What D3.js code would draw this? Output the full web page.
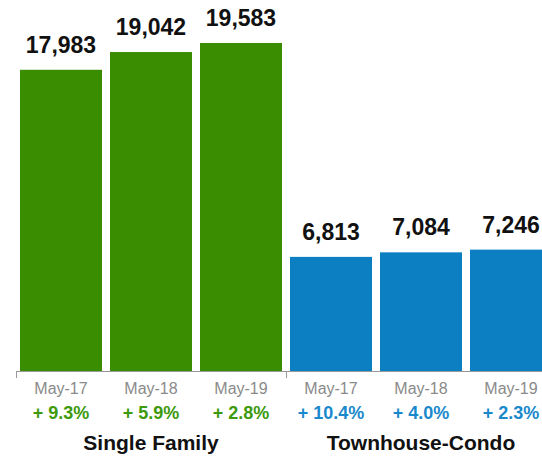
<!DOCTYPE html>
<html lang="en">
  <head>
    <meta charset="utf-8">
    <title>Inventory by type</title>
    <script type="text/javascript" src="https://cdn.jsdelivr.net/npm/d3@7/dist/d3.min.js"></script>
    <style>
      body { margin: 0; background: #fff; }
      svg text { font-family: "Liberation Sans", Arial, sans-serif; }
    </style>
  </head>
  <body>
    <script type="text/javascript">

      var w = 542;
      var h = 459;

      var groups = ["Single Family", "Townhouse-Condo"];
      var months = ["May-17", "May-18", "May-19"];
      var singleFamily = [17983, 19042, 19583];
      var townhouseCondo = [6813, 7084, 7246];
      var singleFamilyChange = ["+ 9.3%", "+ 5.9%", "+ 2.8%"];
      var townhouseCondoChange = ["+ 10.4%", "+ 4.0%", "+ 2.3%"];
      var colors = ["#3a8c00", "#0b7fc1"];
      var textColors = ["#3d9a0c", "#1a89cc"];

      var values = [singleFamily, townhouseCondo];
      var changes = [singleFamilyChange, townhouseCondoChange];

      var baseY = 371;

      var mySvg = d3.select("body")
                    .append("svg")
                    .attr("width", w)
                    .attr("height", h);

      var x0 = d3.scaleBand()
                 .domain(groups)
                 .range([16, 556]);

      var x1 = d3.scaleBand()
                 .domain(months)
                 .range([0, x0.bandwidth()])
                 .paddingInner(8 / 90)
                 .paddingOuter(4 / 90);

      var yScale = d3.scaleLinear()
                     .domain([0, 20000])
                     .range([baseY, 36]);

      var fmt = d3.format(",");

      groups.forEach(function(g, gi) {
        var gx = x0(g);
        var rows = months.map(function(m, i) {
          return { month: m, value: values[gi][i], change: changes[gi][i] };
        });
        var grp = mySvg.append("g").attr("transform", "translate(" + gx + ",0)");

        grp.selectAll("rect")
           .data(rows)
           .enter()
           .append("rect")
           .attr("x", function(d) { return x1(d.month); })
           .attr("y", function(d) { return yScale(d.value); })
           .attr("width", x1.bandwidth())
           .attr("height", function(d) { return baseY - yScale(d.value); })
           .attr("fill", colors[gi]);

        grp.selectAll("text.val")
           .data(rows)
           .enter()
           .append("text")
           .attr("class", "val")
           .attr("x", function(d) { return x1(d.month) + x1.bandwidth() / 2; })
           .attr("y", function(d) { return yScale(d.value) - 17; })
           .attr("text-anchor", "middle")
           .attr("font-size", "23px")
           .attr("font-weight", "bold")
           .attr("fill", "#111")
           .text(function(d) { return fmt(d.value); });

        grp.selectAll("text.month")
           .data(rows)
           .enter()
           .append("text")
           .attr("class", "month")
           .attr("x", function(d) { return x1(d.month) + x1.bandwidth() / 2; })
           .attr("y", 394)
           .attr("text-anchor", "middle")
           .attr("font-size", "16px")
           .attr("fill", "#8a8a8a")
           .text(function(d) { return d.month; });

        grp.selectAll("text.chg")
           .data(rows)
           .enter()
           .append("text")
           .attr("class", "chg")
           .attr("x", function(d) { return x1(d.month) + x1.bandwidth() / 2; })
           .attr("y", 419)
           .attr("text-anchor", "middle")
           .attr("font-size", "18px")
           .attr("font-weight", "bold")
           .attr("fill", textColors[gi])
           .text(function(d) { return d.change; });

        grp.append("text")
           .attr("x", x0.bandwidth() / 2)
           .attr("y", 450)
           .attr("text-anchor", "middle")
           .attr("font-size", "21px")
           .attr("font-weight", "bold")
           .attr("fill", "#111")
           .text(g);
      });

      // axis line with ticks at the group edges
      var axis = mySvg.append("g").attr("stroke", "#999").attr("stroke-width", 1);
      axis.append("line")
          .attr("x1", x0.range()[0])
          .attr("x2", x0.range()[1])
          .attr("y1", baseY + 0.5)
          .attr("y2", baseY + 0.5);
      axis.selectAll("line.tick")
          .data(groups)
          .enter()
          .append("line")
          .attr("class", "tick")
          .attr("x1", function(d) { return x0(d) + 0.5; })
          .attr("x2", function(d) { return x0(d) + 0.5; })
          .attr("y1", baseY)
          .attr("y2", baseY + 7);

    </script>
  </body>
</html>
